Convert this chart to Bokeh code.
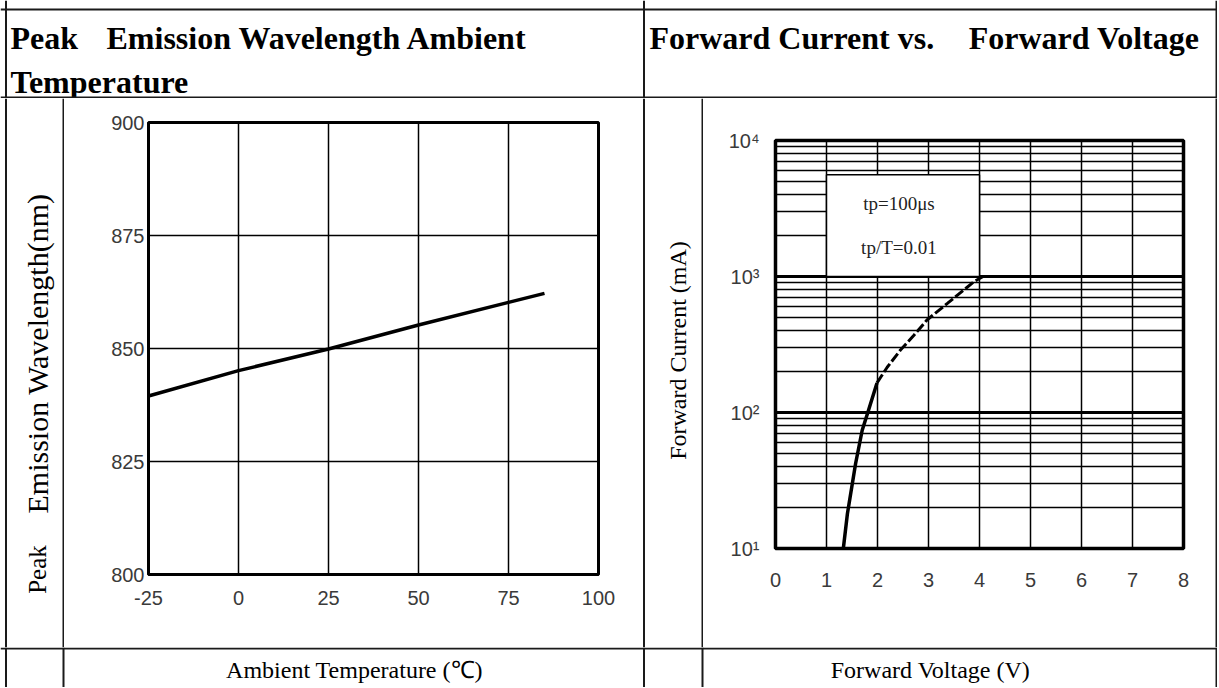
import math
from bokeh.plotting import figure
from bokeh.layouts import column, row
from bokeh.models import Range1d, Span, FixedTicker, CustomJSTickFormatter
from bokeh.core.properties import value
from bokeh.embed import file_html
from bokeh.resources import INLINE

# ---------------- data ----------------
# Peak emission wavelength vs ambient temperature
temp_c = [-25, 0, 25, 50, 75, 85]
wavelength_nm = [839.5, 845.1, 849.9, 855.2, 860.2, 862.2]
temp_ticks = [-25, 0, 25, 50, 75, 100]
wl_ticks = [800, 825, 850, 875, 900]

# Forward current vs forward voltage
vf_v = [1.33, 1.41, 1.57, 1.70, 1.81, 1.99, 2.19, 2.45, 2.71, 2.97, 3.37, 3.89, 4.07]
if_ma = [10, 18, 42, 74, 100, 165, 215, 288, 368, 479, 634, 915, 1000]
vf_ticks = [0, 1, 2, 3, 4, 5, 6, 7, 8]
if_decades = [10, 100, 1000, 10000]
if_minor = [m * d for d in [10, 100, 1000] for m in range(2, 10)]
pulse_notes = ["tp=100μs", "tp/T=0.01"]

# ---------------- styles ----------------
SERIF = "Liberation Serif"
TICK_FONT = "Liberation Sans"
LINE = "#1a1a1a"
TICK_COLOR = "#3a3a3a"

HDR_H = 98
ROW_H = 549
FTR_H = 40
ROW_TOP = HDR_H


def cell(w, h):
    p = figure(width=w, height=h, x_range=Range1d(0, w), y_range=Range1d(h, 0),
               min_border=0, x_axis_location=None, y_axis_location=None,
               toolbar_location=None, output_backend="svg", title=None,
               outline_line_color=None, frame_align=False)
    p.grid.visible = False
    return p


def vline(p, x, w=2):
    p.add_layout(Span(location=x, dimension="height", line_color=LINE, line_width=w))


def hline(p, y, w=2):
    p.add_layout(Span(location=y, dimension="width", line_color=LINE, line_width=w))


# ---------------- header row ----------------
hdr = cell(1217, HDR_H)
hline(hdr, 9); hline(hdr, 97)
vline(hdr, 5.5); vline(hdr, 1216); vline(hdr, 643.5)
hdr.text(x=[10, 106, 10, 649], y=[37, 37, 81, 37],
         text=["Peak", "Emission Wavelength Ambient", "Temperature", "Forward Current vs."],
         text_font=value(SERIF), text_font_style="bold", text_font_size="32px",
         text_color="black", text_align="left", text_baseline="middle")
hdr.text(x=[1199], y=[37], text=["Forward Voltage"],
         text_font=value(SERIF), text_font_style="bold", text_font_size="32px",
         text_color="black", text_align="right", text_baseline="middle")

# ---------------- middle row ----------------
left_lab = cell(64, ROW_H)
vline(left_lab, 5.5); vline(left_lab, 63)
left_lab.text(x=[37], y=[569 - ROW_TOP], text=["Peak"],
              angle=math.pi / 2, text_font=value(SERIF), text_font_size="25px",
              text_color="black", text_align="center", text_baseline="middle")
left_lab.text(x=[37], y=[353 - ROW_TOP], text=["Emission Wavelength(nm)"],
              angle=math.pi / 2, text_font=value(SERIF), text_font_size="30px",
              text_color="black", text_align="center", text_baseline="middle")

# left chart
pl = figure(width=578, height=ROW_H, x_range=Range1d(-25, 100), y_range=Range1d(800, 900),
            min_border_left=84, min_border_right=44,
            min_border_top=122 - ROW_TOP, min_border_bottom=ROW_TOP + ROW_H - 574,
            toolbar_location=None, output_backend="svg", title=None, frame_align=False)
pl.xaxis.ticker = FixedTicker(ticks=temp_ticks)
pl.yaxis.ticker = FixedTicker(ticks=wl_ticks)
pl.xgrid.ticker = FixedTicker(ticks=temp_ticks)
pl.ygrid.ticker = FixedTicker(ticks=wl_ticks)
pl.xaxis.formatter = CustomJSTickFormatter(code="return tick.toString();")
for ax in pl.axis:
    ax.axis_line_color = "black"
    ax.axis_line_width = 3
    ax.major_tick_line_color = None
    ax.minor_tick_line_color = None
    ax.major_tick_out = 0
    ax.major_tick_in = 0
    ax.major_label_text_font = TICK_FONT
    ax.major_label_text_font_size = "20px"
    ax.major_label_text_color = TICK_COLOR
pl.yaxis.major_label_standoff = 4
pl.xaxis.major_label_standoff = 16
pl.grid.grid_line_color = "black"
pl.grid.grid_line_width = 1.5
pl.grid.grid_line_alpha = 1
pl.outline_line_color = "black"
pl.outline_line_width = 3
pl.line(temp_c, wavelength_nm, line_color="black", line_width=3.5)

right_lab = cell(61, ROW_H)
vline(right_lab, 1.5); vline(right_lab, 60)
right_lab.text(x=[35], y=[350 - ROW_TOP], text=["Forward Current (mA)"], angle=math.pi / 2,
               text_font=value(SERIF), text_font_size="24px", text_color="black",
               text_align="center", text_baseline="middle")

# right chart
pr = figure(width=512, height=ROW_H, x_range=Range1d(0, 8), y_range=Range1d(10, 10000),
            y_axis_type="log",
            min_border_left=72, min_border_right=32,
            min_border_top=140 - ROW_TOP, min_border_bottom=ROW_TOP + ROW_H - 548,
            toolbar_location=None, output_backend="svg", title=None, frame_align=False)
pr.xaxis.ticker = FixedTicker(ticks=vf_ticks)
pr.xgrid.ticker = FixedTicker(ticks=vf_ticks)
pr.yaxis.ticker = FixedTicker(ticks=if_decades, minor_ticks=if_minor)
pr.ygrid.ticker = FixedTicker(ticks=if_decades, minor_ticks=if_minor)
pr.yaxis.formatter = CustomJSTickFormatter(code="""
    const sup = {1: '\u00b9', 2: '\u00b2', 3: '\u00b3', 4: '\u2074'};
    return '10' + sup[Math.round(Math.log10(tick))];
""")
for ax in pr.axis:
    ax.axis_line_color = None
    ax.major_tick_line_color = None
    ax.minor_tick_line_color = None
    ax.major_tick_out = 0
    ax.major_tick_in = 0
    ax.major_label_text_font = TICK_FONT
    ax.major_label_text_font_size = "20px"
    ax.major_label_text_color = TICK_COLOR
pr.yaxis.major_label_standoff = 12
pr.xaxis.major_label_standoff = 24
pr.xgrid.grid_line_color = "black"
pr.xgrid.grid_line_width = 1.5
pr.ygrid.grid_line_color = "black"
pr.ygrid.grid_line_width = 3
pr.ygrid.minor_grid_line_color = "black"
pr.ygrid.minor_grid_line_width = 1.3
pr.outline_line_color = "black"
pr.outline_line_width = 3.5

pr.quad(left=1, right=4, bottom=1000, top=5600, fill_color="white",
        line_color="black", line_width=1.5)
pr.text(x=[2.42, 2.42], y=[3470, 1625], text=pulse_notes,
        text_font=value(SERIF), text_font_size="19px", text_color="#222222",
        text_align="center", text_baseline="middle")

n_solid = 6
pr.line(vf_v[:n_solid], if_ma[:n_solid], line_color="black", line_width=3.5)
pr.line(vf_v[n_solid - 1:], if_ma[n_solid - 1:], line_color="black", line_width=3,
        line_dash="10 3")

edge = figure(width=2, height=ROW_H, min_border=0, x_axis_location=None, y_axis_location=None,
              toolbar_location=None, output_backend="svg", title=None,
              background_fill_color=LINE, border_fill_color=LINE, outline_line_color=None,
              frame_align=False)
edge.grid.visible = False

# ---------------- footer row ----------------
ftr = cell(1217, FTR_H)
hline(ftr, 1)
vline(ftr, 5.5); vline(ftr, 1216); vline(ftr, 63); vline(ftr, 643.5); vline(ftr, 702)
ftr.text(x=[354, 930], y=[22, 22], text=["Ambient Temperature (℃)", "Forward Voltage (V)"],
         text_font=value(SERIF), text_font_size="24px", text_color="black",
         text_align="center", text_baseline="middle")

layout = column(hdr, row(left_lab, pl, right_lab, pr, edge), ftr)

open("out.html", "w").write(file_html(layout, INLINE))
